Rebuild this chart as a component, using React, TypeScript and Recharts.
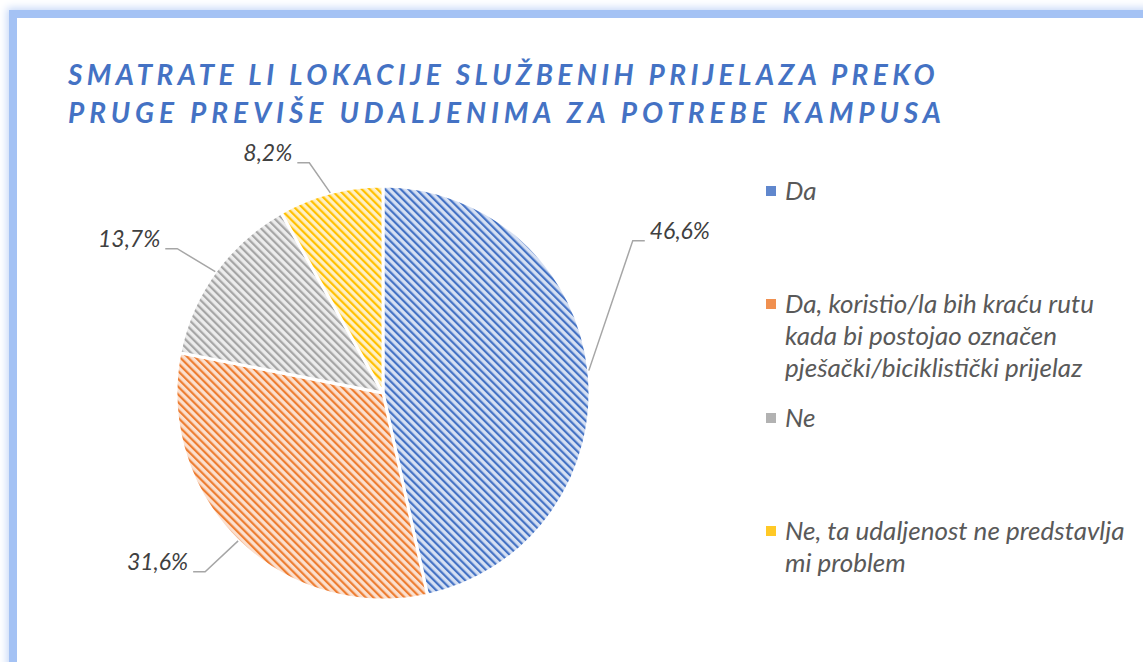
import React from 'react';
import { PieChart, Pie, Cell } from 'recharts';

const categories = [
  'Da',
  'Da, koristio/la bih kraću rutu kada bi postojao označen pješački/biciklistički prijelaz',
  'Ne',
  'Ne, ta udaljenost ne predstavlja mi problem',
];
const shares = [46.6, 31.6, 13.7, 8.2];
const valueLabels = ['46,6%', '31,6%', '13,7%', '8,2%'];
const titleLines = [
  'SMATRATE LI LOKACIJE SLUŽBENIH PRIJELAZA PREKO',
  'PRUGE PREVIŠE UDALJENIMA ZA POTREBE KAMPUSA',
];

// stripe colour / light background per slice
const COLORS = ['#4472C4', '#ED7D31', '#A5A5A5', '#FFC000'];
const BG = ['#d6e0f3', '#fbe0cf', '#ececec', '#fff0c4'];

// leader-line elbow offsets from the slice edge, and which side the label sits
const ELBOW = [
  { dx: 44, dy: -130, side: 1 },
  { dx: -33, dy: 31, side: -1 },
  { dx: -38, dy: -23, side: -1 },
  { dx: -21, dy: -30, side: -1 },
];

const FONT = 'Lato, "Open Sans", sans-serif';
const W = 1143;
const H = 662;
const CX = 383;
const CY = 393;
const R = 207;

const data = categories.map((name, i) => ({ name, value: shares[i] }));

const RAD = Math.PI / 180;

const renderLabel = (props: any) => {
  const { cx, cy, midAngle, outerRadius, index } = props;
  const x0 = cx + outerRadius * Math.cos(-midAngle * RAD);
  const y0 = cy + outerRadius * Math.sin(-midAngle * RAD);
  const e = ELBOW[index];
  const x1 = x0 + e.dx;
  const y1 = y0 + e.dy;
  const x2 = x1 + e.side * 12;
  return (
    <g key={`lbl-${index}`}>
      <polyline
        points={`${x0},${y0} ${x1},${y1} ${x2},${y1}`}
        fill="none"
        stroke="#a6a6a6"
        strokeWidth={1.5}
      />
      <text
        x={x2 + e.side * 5}
        y={y1}
        dy={-2}
        textAnchor={e.side > 0 ? 'start' : 'end'}
        fill="#404040"
        fontSize={23}
        fontStyle="italic"
        fontFamily={FONT}
      >
        {valueLabels[index]}
      </text>
    </g>
  );
};

const legendGaps = [0, 81, 18, 81];

function ChartLegend() {
  return (
    <div
      style={{
        position: 'absolute',
        left: 766,
        top: 174,
        width: 380,
        fontFamily: FONT,
        fontStyle: 'italic',
        fontSize: 26,
        color: '#595959',
        lineHeight: '32px',
      }}
    >
      {categories.map((c, i) => (
        <div key={c} style={{ display: 'flex', alignItems: 'flex-start', marginTop: legendGaps[i] }}>
          <span
            style={{
              display: 'inline-block',
              width: 10,
              height: 10,
              marginTop: 12,
              marginRight: 9,
              flex: '0 0 auto',
              background: COLORS[i],
              opacity: 0.85,
            }}
          />
          <span style={{ width: 352 }}>{c}</span>
        </div>
      ))}
    </div>
  );
}

export default function App() {
  return (
    <div style={{ position: 'absolute', left: 0, top: 0, width: W, height: H, overflow: 'hidden', background: '#fff' }}>
      <div
        style={{
          position: 'absolute',
          left: 9,
          top: 10,
          width: W + 40,
          height: H + 40,
          border: '8px solid #a4c2f4',
          boxShadow: '0 0 8px 2px #c6d8f8',
          boxSizing: 'border-box',
        }}
      />
      <div
        style={{
          position: 'absolute',
          left: 68,
          top: 55,
          fontFamily: FONT,
          fontStyle: 'italic',
          fontWeight: 700,
          fontSize: 28,
          letterSpacing: 4.4,
          lineHeight: '38px',
          color: '#4472C4',
          whiteSpace: 'nowrap',
        }}
      >
        <div>{titleLines[0]}</div>
        <div style={{ letterSpacing: 4.95 }}>{titleLines[1]}</div>
      </div>
      <div style={{ position: 'absolute', left: 0, top: 0 }}>
        <PieChart width={W} height={H} margin={{ top: 0, right: 0, bottom: 0, left: 0 }}>
          <defs>
            {COLORS.map((c, i) => (
              <pattern
                key={c}
                id={`hatch-${i}`}
                width={5.5}
                height={5.5}
                patternUnits="userSpaceOnUse"
                patternTransform="rotate(-45)"
              >
                <rect width={5.5} height={5.5} fill={BG[i]} />
                <rect x={0} y={0} width={2.2} height={5.5} fill={c} />
              </pattern>
            ))}
          </defs>
          <Pie
            data={data}
            dataKey="value"
            nameKey="name"
            cx={CX}
            cy={CY}
            outerRadius={R}
            startAngle={90}
            endAngle={-270}
            stroke="#ffffff"
            strokeWidth={3}
            label={renderLabel}
            labelLine={false}
            isAnimationActive={false}
          >
            {data.map((d, i) => (
              <Cell key={d.name} fill={`url(#hatch-${i})`} />
            ))}
          </Pie>
        </PieChart>
      </div>
      <ChartLegend />
    </div>
  );
}
